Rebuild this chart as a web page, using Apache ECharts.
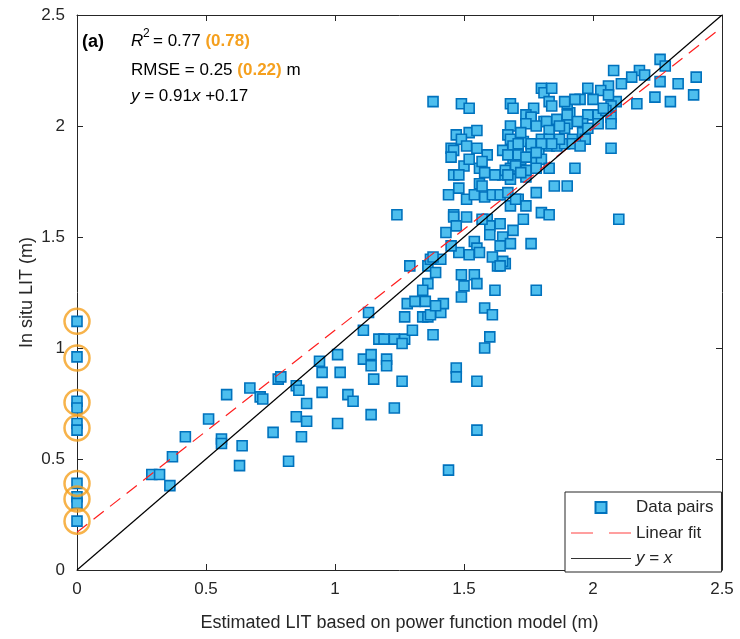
<!DOCTYPE html>
<html>
<head>
<meta charset="utf-8">
<script src="https://cdn.jsdelivr.net/npm/echarts@6/dist/echarts.min.js"></script>
<style>
  html, body { margin: 0; padding: 0; background: #fff; }
  #chart { width: 740px; height: 639px; }
</style>
</head>
<body>
<div id="chart"></div>
<script>
// estimated LIT (x) vs in situ LIT (y)
const dataPairs = [
  [0,1.12],[0,0.96],[0,0.76],[0,0.73],[0,0.66],[0,0.63],[0,0.39],[0,0.33],[0,0.30],[0,0.22],
  [0.29,0.43],[0.32,0.43],[0.37,0.51],[0.36,0.38],[0.42,0.60],[0.51,0.68],[0.58,0.79],[0.67,0.82],
  [0.71,0.78],[0.56,0.59],[0.56,0.57],[0.64,0.56],[0.63,0.47],[0.72,0.77],[0.78,0.86],[0.79,0.87],
  [0.76,0.62],[0.82,0.49],[0.85,0.83],[0.86,0.81],[0.89,0.75],[0.85,0.69],[0.89,0.67],[0.87,0.60],
  [0.95,0.80],[0.94,0.94],[0.95,0.89],[1.01,0.97],[1.02,0.89],[1.05,0.79],[1.07,0.76],[1.01,0.66],
  [1.14,0.70],[1.13,1.16],[1.11,1.08],[1.11,0.95],[1.14,0.97],[1.14,0.92],[1.15,0.86],[1.20,0.95],
  [1.20,0.92],[1.17,1.04],[1.19,1.04],[1.23,1.04],[1.23,0.73],[1.27,1.04],[1.26,1.02],[1.26,0.85],
  [1.30,1.08],[1.38,1.06],[1.27,1.14],[1.34,1.14],[1.36,1.14],[1.37,1.15],[1.41,1.16],[1.28,1.20],
  [1.31,1.21],[1.35,1.21],[1.42,1.20],[1.39,1.19],[1.29,1.37],[1.36,1.37],[1.39,1.34],[1.36,1.29],
  [1.34,1.26],[1.49,1.33],[1.54,1.33],[1.50,1.28],[1.55,1.29],[1.49,1.23],[1.63,1.37],[1.66,1.38],
  [1.62,1.26],[1.78,1.26],[1.58,1.18],[1.61,1.15],[1.60,1.05],[1.58,1.00],[1.47,0.91],[1.47,0.87],
  [1.55,0.85],[1.55,0.63],[1.44,0.45],[1.37,1.40],[1.41,1.40],[1.38,1.41],
  [1.38,2.11],[1.49,2.10],[1.52,2.08],[1.68,2.10],[1.69,2.08],[1.80,2.17],[1.81,2.15],[1.84,2.17],
  [1.83,2.11],[1.84,2.09],[1.77,2.08],[1.74,2.05],[1.76,2.03],[1.81,2.02],[1.68,2.00],[1.67,1.96],
  [1.68,1.94],[1.47,1.96],[1.52,1.97],[1.55,1.98],[1.49,1.94],[1.45,1.90],[1.46,1.89],[1.51,1.91],
  [1.55,1.90],[1.59,1.87],[1.65,1.89],[1.69,1.91],[1.73,1.93],[1.76,1.90],[1.79,1.88],[1.83,1.91],
  [1.86,1.91],[1.89,1.92],[1.92,1.94],[1.69,1.84],[1.72,1.85],[1.78,1.84],[1.80,1.85],[1.50,1.82],
  [1.46,1.78],[1.48,1.78],[1.56,1.81],[1.58,1.79],[1.65,1.78],[1.68,1.81],[1.74,1.77],[1.78,1.81],
  [1.83,1.81],[1.93,1.81],[1.85,1.73],[1.90,1.73],[1.44,1.69],[1.48,1.72],[1.51,1.67],[1.56,1.74],
  [1.58,1.68],[1.54,1.69],[1.63,1.69],[1.68,1.76],[1.68,1.64],[1.71,1.67],[1.74,1.64],[1.78,1.70],
  [1.80,1.61],[1.83,1.60],[1.24,1.60],[1.46,1.60],[1.46,1.59],[1.51,1.59],[1.47,1.55],[1.43,1.52],
  [1.59,1.58],[1.60,1.55],[1.64,1.56],[1.69,1.53],[1.73,1.58],[1.60,1.51],[1.65,1.50],[1.68,1.47],
  [1.76,1.47],[1.54,1.48],[1.55,1.45],[1.52,1.42],[1.48,1.43],[1.45,1.46],[1.56,1.43],[1.61,1.41],
  [1.65,1.39],[1.57,1.58],[1.61,1.69],[1.64,1.69],[1.67,1.70],[1.70,1.67],[1.57,1.73],[1.64,1.46],
  [1.64,1.37],
  [2.26,2.30],[2.28,2.27],[2.08,2.25],[2.18,2.25],[2.20,2.23],[2.15,2.22],[2.26,2.20],[2.33,2.19],
  [2.40,2.22],[2.11,2.19],[2.06,2.18],[1.98,2.17],[2.03,2.16],[2.24,2.13],[2.30,2.11],[2.39,2.14],
  [2.17,2.10],[2.09,2.11],[2.07,2.09],[2.07,2.04],[2.07,2.01],[2.07,1.90],[2.10,1.58],[1.95,2.12],
  [2.00,2.12],[1.91,2.06],[1.98,2.05],[2.02,2.05],[2.05,2.07],[1.90,2.01],[1.96,2.01],[1.89,1.99],
  [1.96,1.97],[1.97,1.94],[1.92,1.92],[1.95,1.91],[1.90,2.10],[1.93,2.12],[2.06,2.14],[1.89,2.11],
  [1.82,2.02],[1.86,2.03],[1.90,2.05],[1.76,2.04],[1.74,2.01],[1.78,2.00],[1.83,1.98],[1.87,2.00],
  [1.72,1.97],[1.80,1.94],[1.83,1.94],[1.87,1.94],[1.71,1.92],[1.76,1.92],[1.80,1.92],[1.84,1.92],
  [1.67,1.87],[1.71,1.87],[1.74,1.86],[1.78,1.88],[1.66,1.80],[1.74,1.80],[1.70,1.82],[1.45,1.86],
  [1.52,1.85],[1.57,1.84],[1.67,1.78],[1.72,1.79],[1.62,1.78],[1.94,2.02],[1.98,1.99],[2.02,2.01],
  [2.04,2.08]
];

// points at x = 0 that are circled in the figure
const circledY = [1.12, 0.955, 0.755, 0.64, 0.39, 0.32, 0.22];

// linear fit y = 0.91x + 0.17
const fitSlope = 0.91;
const fitIntercept = 0.17;
const axisRange = [0, 2.5];

const fitLine = axisRange.map(x => [x, fitSlope * x + fitIntercept]);
const oneToOne = axisRange.map(x => [x, x]);

const FONT = 'Liberation Sans, Arial, sans-serif';
const INK = '#262626';
const ORANGE = '#F5A01E';

// legend icons (flat paths keep their aspect in the legend box)
const ICON_SQUARE = 'path://M0,0H10V10H0Z';
const ICON_DASH = 'path://M0,0H22V1.2H0Z M38,0H60V1.2H38Z';
const ICON_SOLID = 'path://M0,0H60V1H0Z';

const chart = echarts.init(document.getElementById('chart'));

const axisCommon = {
  min: 0,
  max: 2.5,
  interval: 0.5,
  axisLine: { show: true, onZero: false, lineStyle: { color: INK, width: 1 } },
  axisTick: { show: true, inside: true, length: 6, lineStyle: { color: INK } },
  splitLine: { show: false }
};

const option = {
  animation: false,
  backgroundColor: '#fff',
  textStyle: { fontFamily: FONT },
  grid: { left: 77, right: 18, top: 15, bottom: 69 },
  xAxis: [
    Object.assign({}, axisCommon, {
      type: 'value',
      position: 'bottom',
      name: 'Estimated LIT based on power function model (m)',
      nameLocation: 'middle',
      nameGap: 44,
      nameMoveOverlap: false,
      nameTextStyle: { fontSize: 18, color: INK, fontFamily: FONT },
      axisLabel: { fontSize: 17, color: INK, margin: 11, fontFamily: FONT }
    }),
    Object.assign({}, axisCommon, {
      type: 'value',
      position: 'top',
      axisLabel: { show: false }
    })
  ],
  yAxis: [
    Object.assign({}, axisCommon, {
      type: 'value',
      position: 'left',
      name: 'In situ LIT (m)',
      nameLocation: 'middle',
      nameGap: 41,
      nameMoveOverlap: false,
      nameTextStyle: { fontSize: 18, color: INK, fontFamily: FONT },
      axisLabel: { fontSize: 17, color: INK, margin: 12, fontFamily: FONT }
    }),
    Object.assign({}, axisCommon, {
      type: 'value',
      position: 'right',
      axisLabel: { show: false }
    })
  ],
  legend: {
    data: [
      { name: 'Data pairs', icon: ICON_SQUARE },
      { name: 'Linear fit', icon: ICON_DASH },
      { name: 'y = x', icon: ICON_SOLID }
    ],
    orient: 'vertical',
    left: 565,
    top: 492,
    padding: [7, 8, 5, 6],
    itemGap: 8.5,
    itemWidth: 60,
    itemHeight: 11,
    symbolKeepAspect: true,
    borderColor: INK,
    borderWidth: 1,
    borderRadius: 0,
    backgroundColor: '#fff',
    textStyle: {
      fontSize: 17, color: INK, fontFamily: FONT,
      rich: { i: { fontStyle: 'italic', fontSize: 17, color: INK, fontFamily: FONT } }
    },
    formatter: name => name === 'y = x' ? '{i|y} = {i|x}' : name
  },
  series: [
    {
      name: 'Data pairs',
      type: 'scatter',
      symbol: 'rect',
      symbolSize: 10,
      data: dataPairs,
      itemStyle: { color: '#4DBEEE', borderColor: '#0072BD', borderWidth: 1.6, opacity: 1 },
      z: 2
    },
    {
      name: 'circled',
      type: 'scatter',
      symbol: 'circle',
      symbolSize: 25,
      data: circledY.map(y => [0, y]),
      itemStyle: { color: 'rgba(0,0,0,0)', borderColor: ORANGE, borderWidth: 2.5 },
      z: 3
    },
    {
      name: 'Linear fit',
      type: 'line',
      data: fitLine,
      showSymbol: false,
      symbol: 'none',
      lineStyle: { color: '#FF1F1F', width: 1.2, type: [13, 8] },
      itemStyle: { color: '#FF4040', borderWidth: 0 },
      z: 4
    },
    {
      name: 'y = x',
      type: 'line',
      data: oneToOne,
      showSymbol: false,
      symbol: 'none',
      lineStyle: { color: '#000', width: 1.2 },
      itemStyle: { color: '#333', borderWidth: 0 },
      z: 5
    }
  ],
  graphic: [
    { type: 'text', left: 82, top: 33, style: { text: '(a)', font: 'bold 18px ' + FONT, fill: '#000' } },
    { type: 'text', left: 131, top: 33, style: { text: 'R', font: 'italic 17px ' + FONT, fill: '#000' } },
    { type: 'text', left: 143, top: 28, style: { text: '2', font: '12px ' + FONT, fill: '#000' } },
    {
      type: 'text', left: 153, top: 33,
      style: {
        text: '= 0.77 {o|(0.78)}',
        font: '17px ' + FONT, fill: '#000',
        rich: { o: { fontWeight: 'bold', fontSize: 17, fontFamily: FONT, fill: ORANGE, color: ORANGE } }
      }
    },
    {
      type: 'text', left: 131, top: 62,
      style: {
        text: 'RMSE = 0.25 {o|(0.22)} m',
        font: '17px ' + FONT, fill: '#000',
        rich: { o: { fontWeight: 'bold', fontSize: 17, fontFamily: FONT, fill: ORANGE, color: ORANGE } }
      }
    },
    {
      type: 'text', left: 131, top: 88,
      style: {
        text: '{i|y} = 0.91{i|x} +0.17',
        font: '17px ' + FONT, fill: '#000',
        rich: { i: { fontStyle: 'italic', fontSize: 17, fontFamily: FONT } }
      }
    }
  ]
};

chart.setOption(option);
</script>
</body>
</html>
